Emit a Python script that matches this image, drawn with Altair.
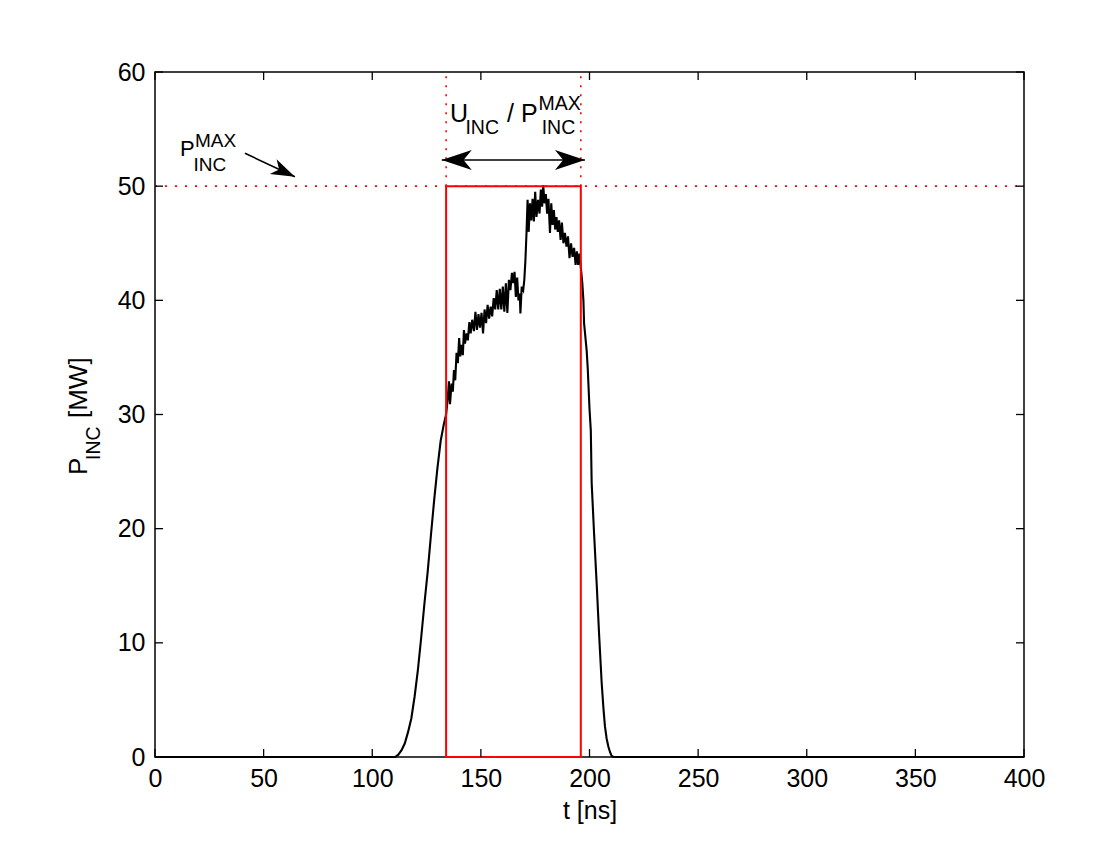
import altair as alt
import pandas as pd

FONT = "Liberation Sans"

# ---- measured incident power trace P_INC(t) ----
t_ns = [0, 110.5, 112, 113.5, 115, 116.5, 118, 119.5, 121, 122.5, 124, 125.5, 127, 128.5,
        130, 131.5, 133, 134, 134.8,
        135.3, 135.8, 136.5, 137.1, 137.6, 138.2, 138.8, 139.4, 140.0, 140.5, 141.1, 141.7,
        142.2, 142.7, 143.4, 144.0, 144.7, 145.3, 146.0, 146.8, 147.5, 148.2, 148.9, 149.6,
        150.3, 151.0, 151.7, 152.4, 153.1, 153.8, 154.5, 155.2, 155.9, 156.6, 157.3, 158.0,
        158.7, 159.4, 160.1, 160.8, 161.5, 162.2, 162.9, 163.6, 164.3, 164.9, 165.5, 166.1,
        166.7, 167.3, 167.9, 168.2, 168.8, 169.5, 170.0, 170.5, 171.0, 171.5, 172.0, 172.6,
        173.2, 173.8, 174.4, 175.0, 175.6, 176.3, 177.0, 177.6, 178.2, 178.7, 179.3, 179.9,
        180.5, 181.1, 181.8, 182.4, 183.0, 183.6, 184.2, 184.8, 185.4, 186.0, 186.7, 187.3,
        188.0, 188.7, 189.4, 190.1, 190.8, 191.5, 192.2, 192.9, 193.6, 194.2, 194.8, 195.4,
        195.9, 196.7, 197.2, 197.5, 198.1, 198.7, 199.2, 199.5, 200.0, 200.6, 201.0, 202.1,
        203.3, 204.4, 205.6, 206.4, 207.1, 207.9, 208.7, 209.5, 210.2, 211, 400]
p_mw = [0, 0, 0.2, 0.6, 1.2, 2.2, 3.4, 5.3, 7.6, 10.4, 13.4, 16.2, 19.4, 22.5,
        25.3, 27.7, 29.2, 30.0, 31.5,
        32.9, 30.9, 32.7, 32.0, 33.9, 33.0, 35.4, 34.5, 36.7, 35.1, 36.1, 35.2,
        37.4, 36.2, 37.1, 36.5, 38.1, 37.1, 38.3, 37.3, 39.0, 37.4, 38.8, 37.6,
        38.9, 37.1, 39.2, 38.0, 39.6, 38.4, 39.45, 38.6, 40.2, 39.2, 40.9, 39.2,
        41.0, 39.2, 41.2, 39.0, 41.5, 38.9, 41.8, 40.9, 42.4, 41.5, 42.5, 40.3,
        42.0, 40.0, 40.6, 38.85, 41.2, 40.9, 41.8, 43.5, 45.9, 48.8, 46.0, 48.5,
        47.0, 48.9, 46.9, 49.5, 47.3, 48.8, 47.6, 49.7, 48.2, 50.1, 48.5, 49.3,
        47.6, 48.9, 45.9, 48.5, 46.6, 47.9, 46.2, 47.3, 46.0, 47.0, 45.3, 46.8,
        45.0, 45.9, 44.7, 45.6, 43.7, 45.0, 43.8, 44.6, 43.1, 44.3, 43.1, 44.1,
        43.1, 41.5, 40.0, 38.0, 36.8, 35.6, 34.0, 32.7, 30.5, 28.6, 24.0, 19.6,
        15.2, 10.8, 6.5, 4.3, 2.7, 1.6, 0.9, 0.4, 0.1, 0, 0]

# ---- rectangular equivalent pulse ----
pulse_start = 134
pulse_end = 196
p_max = 50

x_ticks = [0, 50, 100, 150, 200, 250, 300, 350, 400]
y_ticks = [0, 10, 20, 30, 40, 50, 60]

XD = [0, 400]
YD = [0, 60]

x_axis = alt.Axis(values=x_ticks, ticks=False, domain=False, grid=False,
                  labelFont=FONT, labelFontSize=25, labelColor="black",
                  labelPadding=9, labelFlush=False, labelOverlap=False,
                  title="t [ns]", titleFont=FONT, titleFontSize=25,
                  titleFontWeight="normal", titleColor="black", titlePadding=7)
y_axis = alt.Axis(values=y_ticks, ticks=False, domain=False, grid=False,
                  labelFont=FONT, labelFontSize=25, labelColor="black",
                  labelPadding=10, labelFlush=False, labelOverlap=False,
                  title="")


def X(field):
    return alt.X(field, type="quantitative",
                 scale=alt.Scale(domain=XD, nice=False, zero=False), axis=x_axis)


def Y(field):
    return alt.Y(field, type="quantitative",
                 scale=alt.Scale(domain=YD, nice=False, zero=False), axis=y_axis)


trace = pd.DataFrame({"t": t_ns, "p": p_mw, "i": list(range(len(t_ns)))})

# red dotted guide lines
hdot = pd.DataFrame({"t0": [0], "t1": [400], "p": [p_max]})
hline = alt.Chart(hdot).mark_rule(color="#ff0000", strokeWidth=1.6, strokeDash=[2, 8]).encode(
    x=X("t0"), x2="t1", y=Y("p"))
vdot = pd.DataFrame({"t": [pulse_start, pulse_end], "p0": [p_max, p_max], "p1": [60, 60]})
vline = alt.Chart(vdot).mark_rule(color="#ff0000", strokeWidth=1.6, strokeDash=[2, 7]).encode(
    x=X("t"), y=Y("p0"), y2="p1")

rect_df = pd.DataFrame({"t0": [pulse_start], "t1": [pulse_end], "p0": [0], "p1": [p_max]})
rect = alt.Chart(rect_df).mark_rect(filled=False, stroke="#ff0000", strokeWidth=2).encode(
    x=X("t0"), x2="t1", y=Y("p0"), y2="p1")

line = alt.Chart(trace).mark_line(color="black", strokeWidth=2.1, interpolate="linear").encode(
    x=X("t"), y=Y("p"), order="i:Q")

# inward ticks
xt = pd.DataFrame({"t": x_ticks * 2,
                   "a": [0] * len(x_ticks) + [60] * len(x_ticks),
                   "b": [0.7] * len(x_ticks) + [59.3] * len(x_ticks)})
yt = pd.DataFrame({"p": y_ticks * 2,
                   "a": [0] * len(y_ticks) + [400] * len(y_ticks),
                   "b": [3.7] * len(y_ticks) + [396.3] * len(y_ticks)})
xtick = alt.Chart(xt).mark_rule(color="black", strokeWidth=1.3).encode(
    x=X("t"), y=Y("a"), y2="b")
ytick = alt.Chart(yt).mark_rule(color="black", strokeWidth=1.3).encode(
    x=X("a"), x2="b", y=Y("p"))

# annotation arrows
seg = pd.DataFrame({"t0": [132.0, 41.4], "t1": [197.9, 64.4],
                    "p0": [52.29, 52.88], "p1": [52.29, 50.83]})
segs = alt.Chart(seg).mark_rule(color="black", strokeWidth=1.6).encode(
    x=X("t0"), x2="t1", y=Y("p0"), y2="p1")

ARROW = "M1,0L-1,-0.67L-0.45,0L-1,0.67Z"
heads = pd.DataFrame({"t": [138.9, 191.0, 59.4], "p": [52.29, 52.29, 51.27],
                      "ang": [180, 0, 25], "sz": [900, 900, 576]})
head = alt.Chart(heads).mark_point(shape=ARROW, filled=True, color="black", opacity=1).encode(
    x=X("t"), y=Y("p"), angle=alt.Angle("ang:Q", scale=None), size=alt.Size("sz:Q", scale=None))

# annotation text with sub/superscripts
ann = pd.DataFrame({
    "t": [11.5, 18.4, 17.7, 135.8, 142.9, 162.0, 168.5, 176.5, 178.0],
    "p": [52.6, 53.47, 51.33, 55.6, 54.57, 55.6, 55.6, 56.67, 54.57],
    "txt": ["P", "MAX", "INC", "U", "INC", "/", "P", "MAX", "INC"],
    "fs": [22, 19, 19, 25, 19.5, 25, 25, 19.5, 19.5],
})
ann_text = alt.Chart(ann).mark_text(align="left", baseline="alphabetic", font=FONT,
                                    color="black").encode(
    x=X("t"), y=Y("p"), text="txt:N", size=alt.Size("fs:Q", scale=None))

# y-axis title  P_INC [MW]  (rotated, left of the axis)
yt_df = pd.DataFrame({"t": [-31.3, -25.3, -31.3], "p": [24.70, 26.02, 29.69],
                      "txt": ["P", "INC", "[MW]"], "fs": [26, 19.5, 26]})
ytitle = alt.Chart(yt_df).mark_text(align="left", baseline="alphabetic", angle=270,
                                    font=FONT, color="black").encode(
    x=X("t"), y=Y("p"), text="txt:N", size=alt.Size("fs:Q", scale=None))

chart = alt.layer(line, hline, vline, rect, xtick, ytick, segs, head, ann_text, ytitle).properties(
    width=869, height=685,
    autosize=alt.AutoSizeParams(type="none"),
    padding={"left": 147, "top": 64, "right": 83, "bottom": 78},
    background="white",
).configure_view(stroke="black", strokeWidth=1.5)

chart.save("out.html", embed_options={"renderer": "svg", "actions": False})
